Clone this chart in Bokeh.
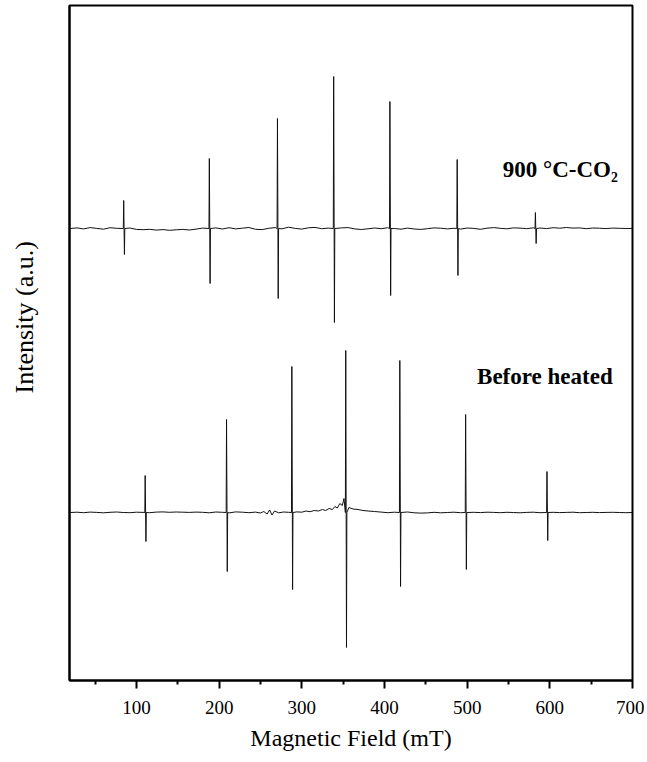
from bokeh.plotting import figure
from bokeh.models import Range1d, FixedTicker, Label, Title
from bokeh.embed import file_html
from bokeh.resources import INLINE

# ---- data ----
# baseline field grid (mT)
baseline_field = [20, 28, 36, 44, 52, 60, 68, 76, 84, 92,
                  100, 108, 116, 124, 132, 140, 148, 156, 164, 172,
                  180, 188, 196, 204, 212, 220, 228, 236, 244, 252,
                  260, 268, 276, 284, 292, 300, 308, 316, 324, 332,
                  340, 348, 356, 364, 372, 380, 388, 396, 404, 412,
                  420, 428, 436, 444, 452, 460, 468, 476, 484, 492,
                  500, 508, 516, 524, 532, 540, 548, 556, 564, 572,
                  580, 588, 596, 604, 612, 620, 628, 636, 644, 652,
                  660, 668, 676, 684, 692, 700]

# 900 °C-CO2 spectrum
co2_peak_field = [85, 188.6, 271, 339, 407, 488.4, 583]
co2_peak_up = [28, 70, 110, 152, 127, 69, 16]
co2_peak_down = [26, 55, 70, 94, 67, 47, 15]
co2_base = [0.0, 0.6, -0.4, 0.9, 0.1, -0.7, 0.8, 0.2, -0.3, 0.5,
            -0.9, -1.2, -0.8, -1.6, -1.1, -1.8, -1.3, -0.9, -1.5, -0.6,
            0.4, 1.2, 0.6, -0.5, 0.8, -0.4, 0.3, 1.0, -0.8, -1.1,
            0.2, 0.9, -0.3, 1.3, 0.1, -0.6, 0.7, 1.1, -0.2, 0.4,
            -0.9, 0.6, 0.9, -0.4, -1.0, -0.3, 0.5, -0.2, 0.8, 0.0,
            -0.7, 0.4, -0.5, -0.9, -0.2, 0.6, 0.3, -0.4, 0.2, -0.6,
            0.5, 0.1, -0.8, 0.3, 0.9, 0.2, -0.3, 0.6, 0.4, -0.2,
            0.7, 0.5, -0.1, 0.8, 0.3, 1.0, 0.4, 0.6, -0.2, 0.5,
            0.3, -0.1, 0.4, 0.2, 0.0, 0.1]
co2_offset = 452

# Before heated spectrum
raw_peak_field = [111, 209.4, 288.4, 353.6, 419, 498.6, 597]
raw_peak_up = [37, 93, 146, 162, 152, 98, 41]
raw_peak_down = [29, 59, 77, 135, 74, 57, 28]
raw_base_field = [20, 28, 36, 44, 52, 60, 68, 76, 84, 92,
                  100, 108, 116, 124, 132, 140, 148, 156, 164, 172,
                  180, 188, 196, 204, 212, 220, 228, 236, 244, 250,
                  254, 258, 261, 264, 267, 272, 278, 284, 294, 300,
                  305, 310, 315, 320, 325, 329, 333, 337, 340, 343,
                  346, 349, 351, 357, 362, 368, 374, 380, 388, 396,
                  404, 412, 428, 436, 444, 452, 460, 468, 476, 484,
                  492, 508, 516, 524, 532, 540, 548, 556, 564, 572,
                  580, 588, 604, 612, 620, 628, 636, 644, 652, 660,
                  668, 676, 684, 692, 700]
raw_base = [0.0, 0.3, -0.2, 0.4, 0.1, -0.3, 0.2, 0.5, 0.0, -0.2,
            0.3, 0.1, -0.2, 0.4, 0.6, 0.2, 0.5, 0.3, 0.1, 0.4,
            0.2, -0.3, 0.5, 0.2, -0.4, 0.6, 0.3, -0.2, 0.4, -0.5,
            1.0, -1.5, 2.5, -2.5, 1.5, -0.3, 0.5, 0.2, 0.6, 0.3,
            1.5, 0.8, 2.0, 1.5, 3.0, 2.0, 4.0, 3.0, 6.0, 4.5,
            9.0, 7.0, 14.0, 5.0, 3.5, 3.0, 2.0, 1.5, 1.0, 0.4,
            -0.2, 0.3, 0.5, -0.3, -0.6, -0.4, 0.2, -0.3, 0.0, 0.3,
            -0.2, 0.2, -0.1, 0.3, 0.1, -0.2, 0.2, 0.0, -0.3, 0.1,
            0.3, -0.2, 0.2, -0.1, 0.1, 0.3, -0.2, 0.0, 0.2, -0.1,
            0.1, 0.2, 0.0, -0.2, 0.0]
raw_offset = 168

x_ticks = [100, 200, 300, 400, 500, 600, 700]
x_minor_ticks = [50, 150, 250, 350, 450, 550, 650]


def build(peak_f, up, down, base_f, base_v, offset):
    pts = [(f, v) for f, v in zip(base_f, base_v)
           if min(abs(f - p) for p in peak_f) > 2.5]
    for pk, u, d in zip(peak_f, up, down):
        pts += [(pk - 0.9, 0.0), (pk - 0.45, u), (pk + 0.45, -d), (pk + 0.9, 0.0)]
    pts.sort()
    return [a for a, _ in pts], [b + offset for _, b in pts]


co2_x, co2_y = build(co2_peak_field, co2_peak_up, co2_peak_down,
                     baseline_field, co2_base, co2_offset)
raw_x, raw_y = build(raw_peak_field, raw_peak_up, raw_peak_down,
                     raw_base_field, raw_base, raw_offset)

FONT = "Liberation Serif"

p = figure(width=644, height=754, output_backend="svg", toolbar_location=None,
           x_range=Range1d(19, 700), y_range=Range1d(0, 675),
           min_border_left=69, min_border_right=12, min_border_top=5,
           min_border_bottom=74)
p.grid.visible = False
p.background_fill_color = "white"
p.border_fill_color = "white"
p.outline_line_color = "black"
p.outline_line_width = 2

p.line(co2_x, co2_y, line_color="#111111", line_width=1)
p.line(raw_x, raw_y, line_color="#111111", line_width=1)

xa = p.xaxis[0]
xa.ticker = FixedTicker(ticks=x_ticks, minor_ticks=x_minor_ticks)
xa.axis_label = "Magnetic Field (mT)"
xa.axis_label_text_font = FONT
xa.axis_label_text_font_style = "normal"
xa.axis_label_text_font_size = "24px"
xa.axis_label_text_color = "black"
xa.axis_label_standoff = 8
xa.major_label_text_font = FONT
xa.major_label_text_font_size = "19px"
xa.major_label_text_color = "black"
xa.major_label_standoff = 12
xa.major_tick_out = 8
xa.major_tick_in = 0
xa.minor_tick_out = 4
xa.minor_tick_in = 0
xa.major_tick_line_width = 2
xa.minor_tick_line_width = 2
xa.axis_line_width = 2
xa.major_tick_line_color = "black"
xa.minor_tick_line_color = "black"
xa.axis_line_color = "black"

ya = p.yaxis[0]
ya.ticker = FixedTicker(ticks=[])
ya.major_tick_out = 0
ya.minor_tick_out = 0
ya.major_label_text_font_size = "0px"
# a blank axis label only reserves room between the frame and the title
ya.axis_label = " "
ya.axis_label_text_font_size = "8px"
ya.axis_label_standoff = 14
ya.axis_line_width = 2
ya.axis_line_color = "black"

# y-axis title, starting where the reference's does (above the frame centre)
p.add_layout(Title(text="Intensity (a.u.)", align="left", offset=287,
                   standoff=10, text_font=FONT, text_font_style="normal",
                   text_font_size="26px", text_color="black"), "left")

p.add_layout(Label(x=543, y=511, text="900 °C-CO₂", text_font=FONT,
                   text_font_style="bold", text_font_size="23px",
                   text_baseline="middle", text_color="black"))
p.add_layout(Label(x=512, y=304, text="Before heated", text_font=FONT,
                   text_font_style="bold", text_font_size="23px",
                   text_baseline="middle", text_color="black"))

open("out.html", "w").write(file_html(p, INLINE))
